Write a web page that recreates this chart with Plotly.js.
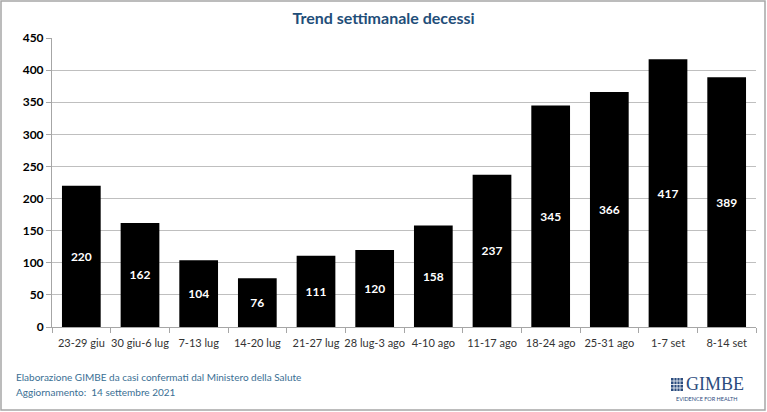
<!DOCTYPE html>
<html>
<head>
<meta charset="utf-8">
<script src="https://cdn.plot.ly/plotly-3.0.1.min.js"></script>
<style>
  html, body { margin: 0; padding: 0; background: #fff; }
  #chart { width: 767px; height: 412px; }
</style>
</head>
<body>
<div id="chart"></div>
<script>
// Weekly deaths, late June to mid September 2021
const weeks = ["23-29 giu", "30 giu-6 lug", "7-13 lug", "14-20 lug", "21-27 lug", "28 lug-3 ago",
               "4-10 ago", "11-17 ago", "18-24 ago", "25-31 ago", "1-7 set", "8-14 set"];
const deaths = [220, 162, 104, 76, 111, 120, 158, 237, 345, 366, 417, 389];
const yTicks = [0, 50, 100, 150, 200, 250, 300, 350, 400, 450];

const FONT = "Lato, 'Open Sans', sans-serif";
const NAVY = "#2B4C7E";

// pixel -> paper helpers for the plot area (52..756 x, 38..327 y)
const L = 52, R = 756, T = 38, B = 327;
const px = x => (x - L) / (R - L);
const py = y => (B - y) / (B - T);

const trace = {
  type: "bar",
  x: weeks,
  y: deaths,
  marker: { color: "#000000" },
  text: deaths.map(String),
  textposition: "inside",
  insidetextanchor: "middle",
  textangle: 0,
  textfont: { family: FONT, size: 12, color: "#ffffff", weight: "bold" },
  hoverinfo: "x+y"
};

// logo grid icon
const iconShapes = [
  { type: "rect", xref: "paper", yref: "paper", x0: px(671), x1: px(683), y0: py(391), y1: py(378),
    fillcolor: NAVY, line: { width: 0 } }
];
[674, 677, 680].forEach(x => iconShapes.push({ type: "line", xref: "paper", yref: "paper",
  x0: px(x), x1: px(x), y0: py(391), y1: py(378), line: { color: "#ffffff", width: 0.8 } }));
[381, 384.5, 388].forEach(y => iconShapes.push({ type: "line", xref: "paper", yref: "paper",
  x0: px(671), x1: px(683), y0: py(y), y1: py(y), line: { color: "#ffffff", width: 0.8 } }));

const layout = {
  width: 767,
  height: 412,
  margin: { l: L, r: 767 - R, t: T, b: 412 - B, pad: 0 },
  paper_bgcolor: "#ffffff",
  plot_bgcolor: "#ffffff",
  bargap: 0.34,
  showlegend: false,
  title: {
    text: "Trend settimanale decessi",
    font: { family: FONT, size: 16, color: "#1F4E79", weight: "bold" },
    x: 0.5, xanchor: "center", y: 1 - 18 / 412, yanchor: "middle"
  },
  xaxis: {
    type: "category",
    showgrid: false,
    showline: true, linecolor: "#A6A6A6", linewidth: 1,
    ticks: "outside", tickson: "boundaries", ticklen: 5, tickcolor: "#A6A6A6",
    tickangle: 0,
    ticklabelstandoff: 6,
    tickfont: { family: FONT, size: 11, color: "#333333" },
    fixedrange: true
  },
  yaxis: {
    range: [0, 450],
    tickvals: yTicks,
    ticktext: yTicks.map(String),
    showgrid: true, gridcolor: "#BFBFBF", gridwidth: 1,
    showline: true, linecolor: "#A6A6A6", linewidth: 1,
    zeroline: false,
    ticks: "outside", ticklen: 5, tickcolor: "#A6A6A6",
    tickfont: { family: FONT, size: 12, color: "#000000", weight: "bold" },
    fixedrange: true
  },
  shapes: [
    { type: "rect", xref: "paper", yref: "paper", layer: "below",
      x0: px(1), x1: px(765), y0: py(410), y1: py(1),
      line: { color: "#A6A6A6", width: 1.5 }, fillcolor: "rgba(0,0,0,0)" },
    ...iconShapes
  ],
  annotations: [
    { xref: "paper", yref: "paper", x: px(14), y: py(377), xanchor: "left", yanchor: "middle",
      showarrow: false, text: "Elaborazione GIMBE da casi confermati dal Ministero della Salute",
      font: { family: FONT, size: 10, color: "#3A6F94" } },
    { xref: "paper", yref: "paper", x: px(14), y: py(392), xanchor: "left", yanchor: "middle",
      showarrow: false, text: "Aggiornamento:  14 settembre 2021",
      font: { family: FONT, size: 10, color: "#3A6F94" } },
    { xref: "paper", yref: "paper", x: px(684), y: py(384), xanchor: "left", yanchor: "middle",
      showarrow: false, text: "GIMBE",
      font: { family: "'Liberation Serif', 'DejaVu Serif', serif", size: 18, color: NAVY } },
    { xref: "paper", yref: "paper", x: px(706), y: py(398.5), xanchor: "center", yanchor: "middle",
      showarrow: false, text: "EVIDENCE FOR HEALTH",
      font: { family: FONT, size: 5.5, color: NAVY } }
  ]
};

Plotly.newPlot("chart", [trace], layout, { displayModeBar: false, staticPlot: true });
</script>
</body>
</html>
